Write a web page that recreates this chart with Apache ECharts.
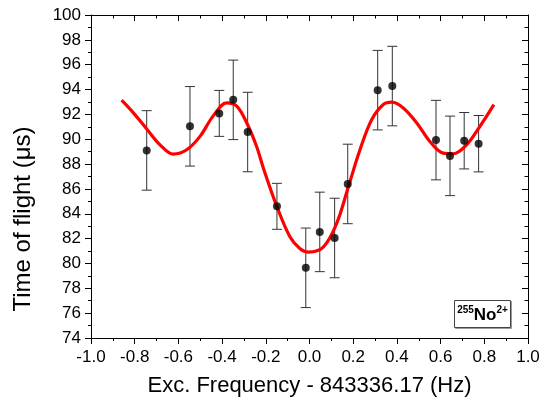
<!DOCTYPE html>
<html>
<head>
<meta charset="utf-8">
<script src="https://cdn.jsdelivr.net/npm/echarts@6/dist/echarts.min.js"></script>
<style>
html,body{margin:0;padding:0;background:#fff;}
#chart{width:550px;height:405px;}
</style>
</head>
<body>
<div id="chart"></div>
<script>
// Measured points
const pointX = [-0.745, -0.547, -0.413, -0.349, -0.283, -0.149, -0.017, 0.047, 0.115, 0.175, 0.312, 0.379, 0.579, 0.643, 0.708, 0.774];
const pointY = [89.10, 91.04, 92.08, 93.17, 90.58, 84.60, 79.65, 82.54, 82.05, 86.40, 93.95, 94.28, 89.93, 88.66, 89.88, 89.64];
const pointErr = [3.2, 3.2, 1.85, 3.2, 3.2, 1.85, 3.2, 3.2, 3.2, 3.2, 3.2, 3.2, 3.2, 3.2, 2.27, 2.27];

// Fitted curve
const curveX = [-0.860, -0.806, -0.745, -0.684, -0.623, -0.562, -0.501, -0.440, -0.379, -0.333, -0.287, -0.242, -0.211, -0.150, -0.089, -0.043, -0.005, 0.063, 0.124, 0.178, 0.231, 0.285, 0.338, 0.376, 0.429, 0.491, 0.551, 0.612, 0.658, 0.719, 0.780, 0.844];
const curveY = [93.14, 92.12, 90.83, 89.55, 88.80, 89.15, 90.23, 91.90, 92.93, 92.66, 91.31, 89.42, 87.67, 84.62, 82.13, 81.19, 80.92, 81.32, 83.21, 86.18, 89.15, 91.58, 92.79, 92.98, 92.52, 91.31, 89.82, 88.88, 88.83, 89.55, 91.04, 92.79];

// Tick labels
const xTickLabels = ['-1.0', '-0.8', '-0.6', '-0.4', '-0.2', '0.0', '0.2', '0.4', '0.6', '0.8', '1.0'];
const yTickLabels = ['74', '76', '78', '80', '82', '84', '86', '88', '90', '92', '94', '96', '98', '100'];

const xMin = -1, xMax = 1, xStep = 0.2;
const yMin = 74, yMax = 100, yStep = 2;

const xTitle = 'Exc. Frequency - 843336.17 (Hz)';
const yTitle = 'Time of flight (\u03bcs)';

const FONT = '"Liberation Sans", Arial, sans-serif';

const chart = echarts.init(document.getElementById('chart'), null, {renderer: 'canvas'});

const errData = pointX.map((x, i) => [x, pointY[i], pointErr[i]]);
const ptData = pointX.map((x, i) => [x, pointY[i]]);
const curveData = curveX.map((x, i) => [x, curveY[i]]);

function baseX(extra) {
  return Object.assign({
    type: 'value', min: xMin, max: xMax, interval: xStep,
    axisLine: {show: true, onZero: false, lineStyle: {color: '#000', width: 1}},
    splitLine: {show: false}
  }, extra);
}
function baseY(extra) {
  return Object.assign({
    type: 'value', min: yMin, max: yMax, interval: yStep,
    axisLine: {show: true, onZero: false, lineStyle: {color: '#000', width: 1}},
    splitLine: {show: false}
  }, extra);
}

const option = {
  backgroundColor: '#fff',
  animation: false,
  grid: {left: 91, right: 22, top: 15, bottom: 67, containLabel: false},
  xAxis: [
    baseX({
      position: 'bottom',
      axisTick: {show: true, inside: false, length: 6, lineStyle: {color: '#000'}},
      minorTick: {show: true, splitNumber: 2, length: 3, lineStyle: {color: '#000'}},
      axisLabel: {
        show: true, margin: 11, color: '#000', fontSize: 17, fontFamily: FONT,
        formatter: v => xTickLabels[Math.round((v - xMin) / xStep)]
      },
      name: xTitle, nameLocation: 'middle', nameGap: 37,
      nameTextStyle: {color: '#000', fontSize: 22, fontFamily: FONT}
    }),
    baseX({
      position: 'top',
      axisTick: {show: true, inside: true, length: 6, lineStyle: {color: '#000'}},
      minorTick: {show: true, splitNumber: 2, length: 3.5, lineStyle: {color: '#000'}},
      axisLabel: {show: false}
    })
  ],
  yAxis: [
    baseY({
      position: 'left',
      axisTick: {show: true, inside: false, length: 6, lineStyle: {color: '#000'}},
      minorTick: {show: true, splitNumber: 2, length: 3, lineStyle: {color: '#000'}},
      axisLabel: {
        show: true, margin: 10, color: '#000', fontSize: 17, fontFamily: FONT,
        formatter: v => yTickLabels[Math.round((v - yMin) / yStep)]
      }
    }),
    baseY({
      position: 'right',
      axisTick: {show: true, inside: true, length: 6, lineStyle: {color: '#000'}},
      minorTick: {show: true, splitNumber: 2, length: 3.5, lineStyle: {color: '#000'}},
      axisLabel: {show: false}
    })
  ],
  series: [
    {
      type: 'custom',
      name: 'errors',
      xAxisIndex: 0, yAxisIndex: 0,
      z: 1,
      data: errData,
      renderItem: function (params, api) {
        const x = api.value(0), y = api.value(1), e = api.value(2);
        const top = api.coord([x, y + e]);
        const bot = api.coord([x, y - e]);
        const cap = 5;
        const style = {stroke: '#333', lineWidth: 1, fill: null};
        return {
          type: 'group',
          children: [
            {type: 'line', shape: {x1: top[0], y1: top[1], x2: bot[0], y2: bot[1]}, style: style},
            {type: 'line', shape: {x1: top[0] - cap, y1: top[1], x2: top[0] + cap, y2: top[1]}, style: style},
            {type: 'line', shape: {x1: bot[0] - cap, y1: bot[1], x2: bot[0] + cap, y2: bot[1]}, style: style}
          ]
        };
      }
    },
    {
      type: 'line',
      name: 'fit',
      xAxisIndex: 0, yAxisIndex: 0,
      z: 2,
      data: curveData,
      smooth: 0.35,
      showSymbol: false,
      symbol: 'none',
      lineStyle: {color: '#ff0000', width: 3.2}
    },
    {
      type: 'scatter',
      name: 'data',
      xAxisIndex: 0, yAxisIndex: 0,
      z: 3,
      data: ptData,
      symbol: 'circle',
      symbolSize: 8,
      itemStyle: {color: '#000'}
    }
  ],
  graphic: [
    {
      type: 'text',
      x: 23, y: 219,
      rotation: Math.PI / 2,
      style: {
        text: yTitle,
        align: 'center', verticalAlign: 'middle',
        fontSize: 24, fontFamily: FONT, fill: '#000'
      }
    },
    {
      type: 'group',
      left: 453, top: 299,
      children: [
        {type: 'rect', shape: {x: 1, y: 1, width: 56, height: 27}, style: {fill: 'none', stroke: '#999', lineWidth: 1}},
        {type: 'rect', shape: {x: 0, y: 0, width: 56, height: 27}, style: {fill: '#fff', stroke: '#444', lineWidth: 1}},
        {
          type: 'text',
          x: 28, y: 14,
          style: {
            text: '{s|255}{b|No}{s|2+}',
            align: 'center', verticalAlign: 'middle',
            rich: {
              s: {fontSize: 10, fontWeight: 'bold', fontFamily: FONT, fill: '#000', verticalAlign: 'top', lineHeight: 18},
              b: {fontSize: 17, fontWeight: 'bold', fontFamily: FONT, fill: '#000', verticalAlign: 'bottom', lineHeight: 18}
            }
          }
        }
      ]
    }
  ]
};

chart.setOption(option);
</script>
</body>
</html>
